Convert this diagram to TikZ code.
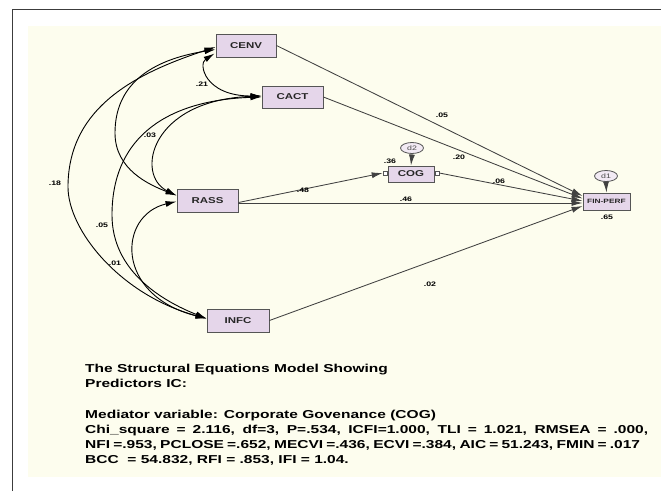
\documentclass[tikz,border=0pt]{standalone}
\usepackage{fontspec}
\usepackage{graphicx}
\setmainfont{Liberation Sans}
\usetikzlibrary{arrows.meta,calc,shapes.geometric}
\definecolor{cream}{RGB}{253,253,238}
\definecolor{boxfill}{RGB}{229,214,234}
\definecolor{boxline}{RGB}{85,85,85}
\definecolor{pathcol}{RGB}{65,65,65}
\definecolor{framecol}{RGB}{60,60,60}
\newcommand{\hstretch}[1]{\scalebox{1.35}[1]{#1}}
\begin{document}
\begin{tikzpicture}[x=1pt,y=-1pt,
 var/.style={draw=boxline, line width=0.9pt, fill=boxfill, inner sep=0pt, font=\fontsize{8.5}{9}\selectfont\bfseries, text=black!85},
 err/.style={ellipse, draw=boxline, line width=0.8pt, fill=boxfill!50, inner sep=0pt, minimum width=23pt, minimum height=11pt, font=\fontsize{6.5}{6.5}\selectfont, text=black!70},
 lbl/.style={font=\fontsize{6.5}{7}\selectfont\bfseries, inner sep=0pt},
 reg/.style={draw=pathcol, line width=0.85pt, -{Latex[length=11pt,width=6pt]}},
 cov/.style={draw=black, line width=0.9pt, {Latex[length=11pt,width=6pt]}-{Latex[length=11pt,width=6pt]}},
 tab/.style={draw=boxline, fill=white, line width=0.6pt, minimum size=4pt, inner sep=0pt},
 txt/.style={anchor=base west, inner sep=0pt, font=\fontsize{11.5}{13}\selectfont\bfseries}
]
\useasboundingbox (0,0) rectangle (661,491);
\fill[white] (0,0) rectangle (661,491);
\fill[cream] (28,26) rectangle (661,477);
\draw[framecol, line width=1pt] (12,491) -- (12,9) -- (661,9);

% observed variables
\node[var, minimum width=60pt, minimum height=23pt] (CENV) at (246,45.5) {\hstretch{CENV}};
\node[var, minimum width=61pt, minimum height=22pt] (CACT) at (292.5,97) {\hstretch{CACT}};
\node[var, minimum width=61pt, minimum height=23pt] (RASS) at (207.5,200.5) {\hstretch{RASS}};
\node[var, minimum width=62pt, minimum height=23pt] (INFC) at (238,320.5) {\hstretch{INFC}};
\node[var, minimum width=46pt, minimum height=16pt] (COG) at (411,174) {\hstretch{COG}};
\node[var, minimum width=47pt, minimum height=17pt, font=\fontsize{6.2}{6.5}\selectfont\bfseries] (FIN) at (606.5,201.5) {\hstretch{FIN-PERF}};
\node[tab] (tl) at (385,173) {};
\node[tab] (tr) at (437,173) {};

% error terms
\node[err] (d2) at (412,148) {\hstretch{d2}};
\node[err] (d1) at (606,176) {\hstretch{d1}};

% regression paths
\draw[reg] (CENV.east) -- ($(FIN.west)+(0,-5.5)$);
\draw[reg] (CACT.east) -- ($(FIN.west)+(0,-3)$);
\draw[reg] ($(RASS.east)+(0,2)$) -- (tl.west);
\draw[reg] (tr.east) -- ($(FIN.west)+(0,-0.5)$);
\draw[reg] ($(RASS.east)+(0,2.5)$) -- ($(FIN.west)+(0,1.5)$);
\draw[reg] (INFC.east) -- ($(FIN.west)+(0,4.5)$);
\draw[reg] (d2.south) -- (COG.north);
\draw[reg] (d1.south) -- (FIN.north);

% covariances
\draw[cov] ($(CENV.west)+(0,1.5)$) .. controls (140,72) and (68,105) .. (68,187)
           .. controls (68,230) and (120,295) .. ($(INFC.west)+(0,-2)$);
\draw[cov] ($(CENV.west)+(0,4)$) .. controls (150,60) and (115,85) .. (115,133)
           .. controls (115,170) and (150,185) .. ($(RASS.west)+(0,-5)$);
\draw[cov] ($(CENV.west)+(-1,8)$) .. controls (198,64) and (205,96) .. ($(CACT.west)+(0,-1)$);
\draw[cov] ($(CACT.west)+(0,-1)$) .. controls (150,100) and (135,175) .. ($(RASS.west)+(0,-5)$);
\draw[cov] (CACT.west) .. controls (170,100) and (112,135) .. (112,215)
           .. controls (112,270) and (160,300) .. ($(INFC.west)+(0,-2)$);
\draw[cov] ($(RASS.west)+(0,1)$) .. controls (118,215) and (114,295) .. ($(INFC.west)+(0,-2)$);

% labels
\node[lbl] (l21) at (202,84) {\hstretch{.21}};
\node[lbl] (l03) at (150,135) {\hstretch{.03}};
\node[lbl] (l18) at (55,183) {\hstretch{.18}};
\node[lbl] (l05a) at (102,225) {\hstretch{.05}};
\node[lbl] (l01) at (115,263) {\hstretch{.01}};
\node[lbl] (l05b) at (442,115) {\hstretch{.05}};
\node[lbl] (l20) at (459,157) {\hstretch{.20}};
\node[lbl] (l36) at (390,161) {\hstretch{.36}};
\node[lbl] (l06) at (499,181) {\hstretch{.06}};
\node[lbl] (l46) at (406,199) {\hstretch{.46}};
\node[lbl] (l48) at (303,190) {\hstretch{.48}};
\node[lbl] (l65) at (607,217) {\hstretch{.65}};
\node[lbl] (l02) at (430,284) {\hstretch{.02}};

% caption
\node[txt] (t1) at (85,372) {\hstretch{The Structural Equations Model Showing}};
\node[txt] (t2) at (85,387) {\hstretch{Predictors IC:}};
\node[txt] (t3) at (85,418) {\hstretch{Mediator variable: Corporate Govenance (COG)}};
\node[txt] (t4) at (85,433) {\hstretch{\makebox[417pt][s]{Chi\_square = 2.116, df=3, P=.534, ICFI=1.000, TLI = 1.021, RMSEA = .000,}}};
\node[txt] (t5) at (85,448) {\hstretch{\makebox[411pt][s]{NFI =.953, PCLOSE =.652, MECVI =.436, ECVI =.384, AIC = 51.243, FMIN = .017}}};
\node[txt] (t6) at (85,463) {\hstretch{BCC \ = 54.832, RFI = .853, IFI = 1.04.}};
\end{tikzpicture}
\end{document}
